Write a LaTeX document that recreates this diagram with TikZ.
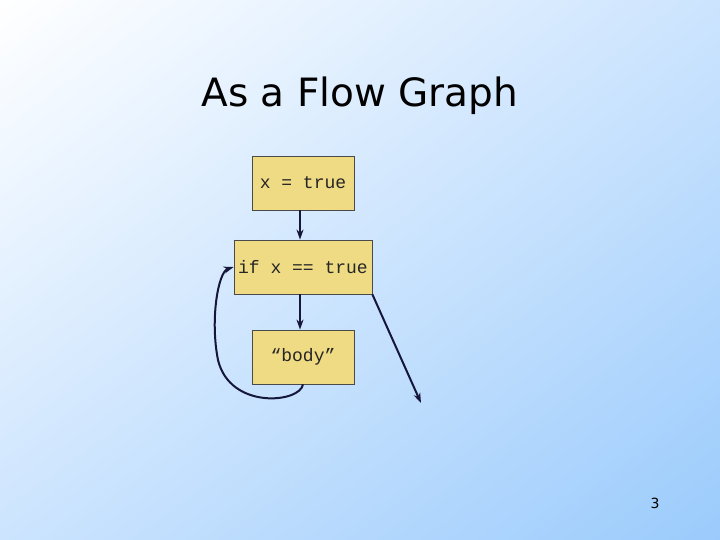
\documentclass[tikz,border=0pt]{standalone}
\usepackage{fontspec}
\setmainfont{DejaVu Sans}
\setmonofont{Liberation Mono}
\usepackage{tikz}
\usetikzlibrary{arrows.meta,shadings}
\definecolor{FlowBox}{HTML}{EEDB83}
\definecolor{FlowLine}{HTML}{16163A}
\definecolor{FlowEdge}{HTML}{4A4A4A}
\definecolor{SlideTop}{HTML}{FFFFFF}
\definecolor{SlideBottom}{HTML}{9BCBFC}
\definecolor{SlideSide}{HTML}{CCE4FE}

\begin{document}
\begin{tikzpicture}[x=1pt,y=-1pt,
    stmt/.style={draw=FlowEdge,fill=FlowBox,line width=0.8pt,inner sep=0pt,
      text=black!85,font=\ttfamily\fontsize{18}{18}\selectfont},
    flow/.style={FlowLine,line width=2pt,-{Stealth[length=10pt,width=7pt]}}]
    \useasboundingbox (0,0) rectangle (720,540);
    \shade[upper left=SlideTop,lower right=SlideBottom,upper right=SlideSide,lower left=SlideSide]
      (0,0) rectangle (720,540);
    \node (title) at (360,96) {\fontsize{39}{39}\selectfont As a Flow Graph};
    \node[stmt,minimum width=102pt,minimum height=54pt] (init) at (303,183) {x = true};
    \node[stmt,minimum width=138pt,minimum height=54pt] (test) at (303,267) {if x == true};
    \node[stmt,minimum width=102pt,minimum height=54pt] (body) at (303,357) {“body”};
    \coordinate (done) at (421,403);
    \draw[flow] ([xshift=-3pt]init.south) -- ([xshift=-3pt]test.north);
    \draw[flow] ([xshift=-3pt]test.south) -- ([xshift=-3pt]body.north);
    \draw[flow] (body.south) .. controls (300,403) and (230,410) .. (218,360)
      .. controls (210,320) and (218,272) .. (test.west);
    \draw[flow] (test.south east) -- (done);
    \node (page) at (655,503) {\fontsize{14}{14}\selectfont 3};
  \end{tikzpicture}
\end{document}
